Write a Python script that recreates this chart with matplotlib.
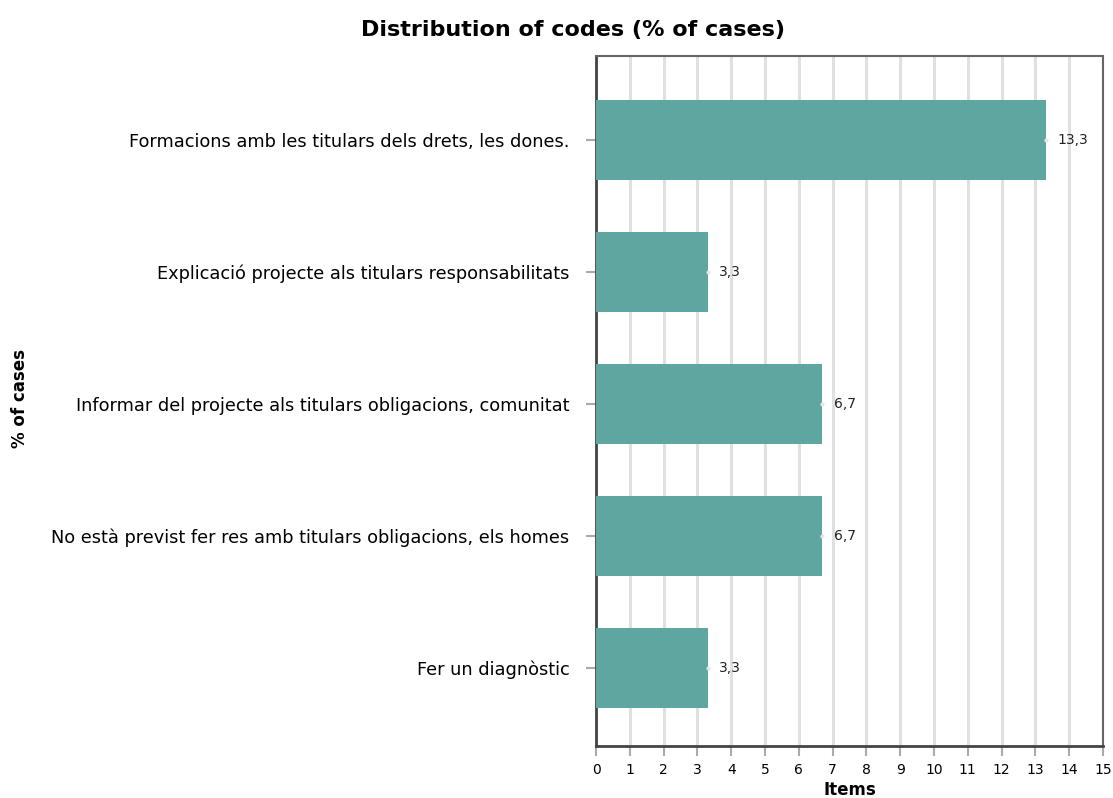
import matplotlib.pyplot as plt

# data
categories = [
    'Formacions amb les titulars dels drets, les dones.',
    'Explicació projecte als titulars responsabilitats',
    'Informar del projecte als titulars obligacions, comunitat',
    'No està previst fer res amb titulars obligacions, els homes',
    'Fer un diagnòstic',
]
values = [13.3, 3.3, 6.7, 6.7, 3.3]
value_labels = ['13,3', '3,3', '6,7', '6,7', '3,3']
x_ticks = list(range(0, 16))

fig = plt.figure(figsize=(11.13, 7.98), dpi=100)
ax = fig.add_axes([0.5355, 0.0652, 0.4555, 0.8646])

pos = list(range(len(categories)))
ax.barh(pos, values, height=0.6, color='#5fa5a0', zorder=3)

# value labels next to bars
for p, v, lab in zip(pos, values, value_labels):
    ax.plot(v, p, marker='o', markersize=2, color='#e6e6e6', zorder=4)
    ax.text(v + 0.35, p, lab, va='center', ha='left', fontsize=10, color='#222222')

ax.set_xlim(0, 15)
ax.set_ylim(4.59, -0.636)
ax.set_xticks(x_ticks)
ax.set_xticklabels([str(t) for t in x_ticks], fontsize=10)
ax.set_yticks(pos)
ax.set_yticklabels(categories, fontsize=12.8)

ax.grid(axis='x', color='#e0e0e0', linewidth=2.2, zorder=0)
ax.tick_params(axis='both', color='#aaaaaa', length=7, width=1.5)
ax.tick_params(axis='y', pad=12)
ax.tick_params(axis='x', pad=5)

for side in ['left', 'bottom']:
    ax.spines[side].set_color('#444444')
    ax.spines[side].set_linewidth(2)
for side in ['top', 'right']:
    ax.spines[side].set_color('#666666')
    ax.spines[side].set_linewidth(1.5)

ax.set_xlabel('Items', fontsize=12, fontweight='bold', labelpad=3)
fig.text(0.018, 0.5, '% of cases', rotation=90, va='center', ha='center',
         fontsize=12, fontweight='bold')
fig.text(0.515, 0.963, 'Distribution of codes (% of cases)', ha='center', va='center',
         fontsize=16, fontweight='bold')

plt.savefig('out.png', dpi=100)
